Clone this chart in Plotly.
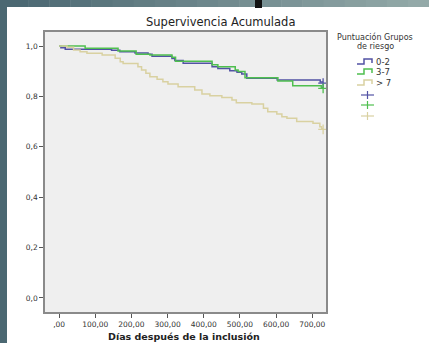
import plotly.graph_objects as go

# ---------------- data ----------------
groups = ["0-2", "3-7", "> 7"]

days_0_2 = [0, 5, 17, 145, 168, 210, 246, 257, 312, 320, 343, 423, 439, 472, 492, 505, 519, 603, 722, 730]
surv_0_2 = [1.0, 0.993, 0.987, 0.983, 0.977, 0.972, 0.967, 0.959, 0.950, 0.942, 0.932, 0.918, 0.911, 0.902, 0.896, 0.889, 0.872, 0.865, 0.857, 0.857]

days_3_7 = [0, 72, 163, 213, 251, 312, 322, 423, 439, 487, 495, 514, 605, 646, 725, 730]
surv_3_7 = [1.0, 0.991, 0.980, 0.967, 0.964, 0.955, 0.940, 0.926, 0.918, 0.905, 0.899, 0.874, 0.861, 0.842, 0.835, 0.835]

days_gt7 = [0, 22, 40, 58, 77, 119, 155, 169, 177, 218, 228, 240, 251, 271, 287, 301, 329, 375, 395, 417,
            450, 478, 490, 533, 565, 577, 602, 616, 630, 657, 702, 721, 726, 730]
surv_gt7 = [1.0, 0.995, 0.984, 0.977, 0.971, 0.964, 0.951, 0.938, 0.931, 0.918, 0.905, 0.892, 0.878, 0.868, 0.858, 0.849, 0.838, 0.825, 0.810, 0.803,
            0.796, 0.786, 0.775, 0.770, 0.753, 0.739, 0.730, 0.719, 0.713, 0.700, 0.693, 0.680, 0.672, 0.672]

censor_days = [730, 730, 730]
censor_surv = [0.853, 0.832, 0.669]

x_tickvals = [0, 100, 200, 300, 400, 500, 600, 700]
x_ticktext = [",00", "100,00", "200,00", "300,00", "400,00", "500,00", "600,00", "700,00"]
y_tickvals = [0.0, 0.2, 0.4, 0.6, 0.8, 1.0]
y_ticktext = ["0,0", "0,2", "0,4", "0,6", "0,8", "1,0"]

title_text = "Supervivencia Acumulada"
x_title = "Días después de la inclusión"
legend_title = ["Puntuación Grupos", "de riesgo"]

colors = ["#5252a4", "#4fbf4f", "#d9d1a1"]

# ---------------- figure ----------------
W, H = 429, 343
L, R, T, B = 45, 326, 32, 312  # plot area in px


def px(x):
    return (x - L) / (R - L)


def py(y):
    return (B - y) / (B - T)


font = "DejaVu Sans"
fig = go.Figure()

series = [(days_0_2, surv_0_2), (days_3_7, surv_3_7), (days_gt7, surv_gt7)]
for name, (d, s), c in zip(groups, series, colors):
    fig.add_trace(go.Scatter(x=d, y=s, mode="lines", line=dict(color=c, width=1.5, shape="hv"),
                             name=name, showlegend=False, hoverinfo="skip"))
for i, c in enumerate(colors):
    fig.add_trace(go.Scatter(x=[censor_days[i]], y=[censor_surv[i]], mode="markers",
                             marker=dict(symbol="cross-thin", size=7, line=dict(color=c, width=1.3)),
                             showlegend=False, hoverinfo="skip"))

shapes = []
annotations = []

# dark frame around the slide (left strip + top gradient band)
shapes.append(dict(type="rect", xref="paper", yref="paper", x0=px(0), x1=px(7), y0=py(343), y1=py(0),
                   fillcolor="#4b6872", line=dict(width=0), layer="above"))
nseg = 20
c0 = (0x4b, 0x68, 0x72)
c1 = (0x93, 0xa9, 0xa8)
for k in range(nseg):
    t = k / (nseg - 1)
    col = "rgb(%d,%d,%d)" % tuple(round(a + (b - a) * t) for a, b in zip(c0, c1))
    shapes.append(dict(type="rect", xref="paper", yref="paper",
                       x0=px(7 + (W - 7) * k / nseg), x1=px(7 + (W - 7) * (k + 1) / nseg + 0.5),
                       y0=py(7), y1=py(0), fillcolor=col, line=dict(width=0), layer="above"))
shapes.append(dict(type="rect", xref="paper", yref="paper", x0=px(255), x1=px(262), y0=py(8), y1=py(0),
                   fillcolor="#111111", line=dict(width=0), layer="above"))

# legend (drawn by hand)
annotations.append(dict(text=legend_title[0], xref="paper", yref="paper", x=px(375), y=py(37),
                        showarrow=False, font=dict(size=8, color="#333333", family=font), xanchor="center", yanchor="middle"))
annotations.append(dict(text=legend_title[1], xref="paper", yref="paper", x=px(375), y=py(46.5),
                        showarrow=False, font=dict(size=8, color="#333333", family=font), xanchor="center", yanchor="middle"))
rows = [62, 72, 83]
for yy, c, g in zip(rows, colors, groups):
    path = "M %f,%f L %f,%f L %f,%f L %f,%f L %f,%f" % (
        px(357), py(yy + 2), px(364), py(yy + 2), px(364), py(yy - 3), px(372), py(yy - 3), px(372), py(yy + 1))
    shapes.append(dict(type="path", xref="paper", yref="paper", path=path, line=dict(color=c, width=1.5)))
    annotations.append(dict(text=g, xref="paper", yref="paper", x=px(374), y=py(yy), showarrow=False,
                            font=dict(size=8.5, color="#333333", family=font), xanchor="left", yanchor="middle"))
for yy, c in zip([95, 105, 116], colors):
    shapes.append(dict(type="line", xref="paper", yref="paper", x0=px(361), x1=px(374), y0=py(yy), y1=py(yy),
                       line=dict(color=c, width=1.2)))
    shapes.append(dict(type="line", xref="paper", yref="paper", x0=px(367.5), x1=px(367.5), y0=py(yy - 4), y1=py(yy + 4),
                       line=dict(color=c, width=1.2)))

# title and x-axis title
annotations.append(dict(text=title_text, xref="paper", yref="paper", x=px(220), y=py(22), showarrow=False,
                        font=dict(size=11.5, color="#222222", family=font), xanchor="center", yanchor="middle"))
annotations.append(dict(text="<b>" + x_title + "</b>", xref="paper", yref="paper", x=px(184), y=py(336), showarrow=False,
                        font=dict(size=9.5, color="#222222", family=font), xanchor="center", yanchor="middle"))

fig.update_layout(
    width=W, height=H,
    margin=dict(l=L, r=W - R, t=T, b=H - B, pad=0),
    paper_bgcolor="white", plot_bgcolor="#efefef",
    shapes=shapes, annotations=annotations, showlegend=False,
    xaxis=dict(range=[-39, 738], tickvals=x_tickvals, ticktext=x_ticktext, showgrid=False, zeroline=False,
               ticks="outside", ticklen=4, tickcolor="#555555", showline=True, mirror=True, linecolor="#8a8a8a",
               linewidth=1.5, tickfont=dict(size=7.5, color="#333333", family=font), fixedrange=True),
    yaxis=dict(range=[-0.0556, 1.0556], tickvals=y_tickvals, ticktext=y_ticktext, showgrid=False, zeroline=False,
               ticks="outside", ticklen=4, tickcolor="#555555", showline=True, mirror=True, linecolor="#8a8a8a",
               linewidth=1.5, tickfont=dict(size=7.5, color="#333333", family=font), fixedrange=True),
)

fig.write_html("out.html")
